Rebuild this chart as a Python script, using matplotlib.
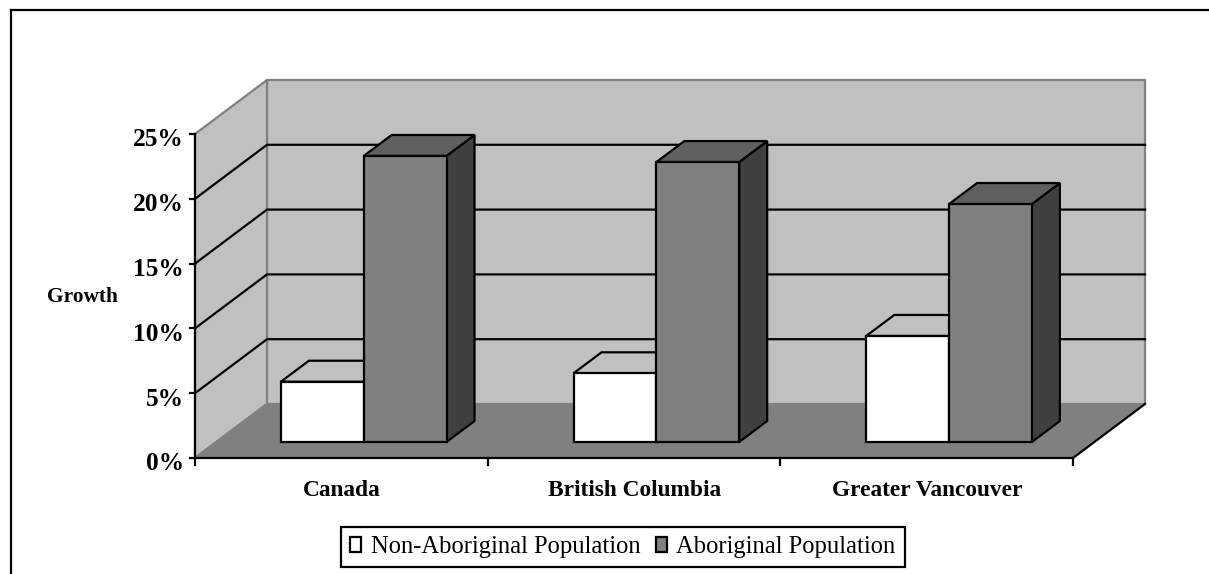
from matplotlib import pyplot as plt
from matplotlib.patches import Patch, Polygon
import numpy as np

categories = ['Canada', 'British Columbia', 'Greater Vancouver']
non_aboriginal = [4.65, 5.3, 8.18]
aboriginal = [22.07, 21.6, 18.36]
y_ticks = [0, 5, 10, 15, 20, 25]
y_label = 'Growth'
series_names = ['Non-Aboriginal Population', 'Aboriginal Population']

plt.rcParams['font.family'] = ['Liberation Serif', 'DejaVu Sans']

W, H = 1209, 574
PX_X = 292.67  # pixels per category
PX_Y = 12.96   # pixels per percent
LW = 1.6

fig = plt.figure(figsize=(W / 100, H / 100), dpi=100)
ax = fig.add_axes([0, 0, 1, 1])
ax.set_xlim(-195 / PX_X, (W - 195) / PX_X)
ax.set_ylim((458 - H) / PX_Y, 458 / PX_Y)
ax.axis('off')

# wall depth as a shear, in data units
DX = 72 / PX_X
DY = 54 / PX_Y


def pt(x, y, d=0.0):
    return (x + d * DX, y + d * DY)


def quad(points, face, edge='black', lw=LW, z=2):
    ax.add_patch(Polygon(points, closed=True, facecolor=face, edgecolor=edge,
                         linewidth=lw, joinstyle='miter', zorder=z))


n = len(categories)
top = y_ticks[-1]

# outer chart frame, only left and top show
ax.plot([11 / PX_X - 195 / PX_X] * 2, [(458 - H) / PX_Y, (458 - 10) / PX_Y], color='black', lw=LW)
ax.plot([11 / PX_X - 195 / PX_X, (W - 195) / PX_X], [(458 - 10) / PX_Y] * 2, color='black', lw=LW)

# walls and floor
quad([pt(0, 0, 1), pt(n, 0, 1), pt(n, top, 1), pt(0, top, 1)], '#C0C0C0', '#808080')
quad([pt(0, 0), pt(0, 0, 1), pt(0, top, 1), pt(0, top)], '#C0C0C0', '#808080')
quad([pt(0, 0), pt(n, 0), pt(n, 0, 1), pt(0, 0, 1)], '#808080', 'none', 0)

# gridlines
for v in y_ticks[1:-1]:
    ax.plot(*zip(pt(0, v), pt(0, v, 1), pt(n, v, 1)), color='black', lw=LW, zorder=2.5)

# floor and axis edges
ax.plot(*zip(pt(0, 0, 1), pt(0, 0)), color='#808080', lw=LW, zorder=2.5)
ax.plot(*zip(pt(0, top), pt(0, 0), pt(n, 0), pt(n, 0, 1)), color='black', lw=LW, zorder=2.6)

# ticks
for v in y_ticks:
    ax.plot([-5 / PX_X, 0], [v, v], color='black', lw=LW, zorder=2.6)
    ax.text(-11 / PX_X, v - 6 / PX_Y, f'{v}%', ha='right', va='center',
            fontsize=18.3, fontweight='bold')
for i in range(n + 1):
    ax.plot([i, i], [0, -7 / PX_Y], color='black', lw=LW, zorder=2.6)

for i, name in enumerate(categories):
    ax.text(i + 0.503, -32 / PX_Y, name, ha='center', va='center',
            fontsize=16.8, fontweight='bold')

ax.text(-113 / PX_X, (458 - 297) / PX_Y, y_label, ha='center', va='center',
        fontsize=15.4, fontweight='bold')

# bars, sitting a little in front of the back wall
BAR_W = 0.283
D0 = 16 / 54
D1 = 37 / 54
OFFSET = 0.2205
series = [(non_aboriginal, 'white', '#C0C0C0', '#808080'),
          (aboriginal, '#808080', '#606060', '#404040')]

z = 3
for i in range(n):
    for j, (vals, front, roof, side) in enumerate(series):
        x0 = i + OFFSET + j * BAR_W
        x1 = x0 + BAR_W
        v = vals[i]
        quad([pt(x1, 0, D0), pt(x1, 0, D1), pt(x1, v, D1), pt(x1, v, D0)], side, z=z)
        quad([pt(x0, v, D0), pt(x1, v, D0), pt(x1, v, D1), pt(x0, v, D1)], roof, z=z)
        quad([pt(x0, 0, D0), pt(x1, 0, D0), pt(x1, v, D0), pt(x0, v, D0)], front, z=z)
        z += 1

handles = [Patch(facecolor=s[1], edgecolor='black', linewidth=LW) for s in series]
leg = ax.legend(handles, series_names, loc='center', bbox_to_anchor=(623 / W, 1 - 547 / H),
                fontsize=17.7, ncol=2, frameon=True, fancybox=False, framealpha=1,
                edgecolor='black', handlelength=0.45, handleheight=0.6, handletextpad=0.4,
                columnspacing=0.6, borderpad=0.38, borderaxespad=0, labelspacing=0)
leg.get_frame().set_linewidth(LW)
leg.set_zorder(20)

fig.savefig('out.png', dpi=100)
